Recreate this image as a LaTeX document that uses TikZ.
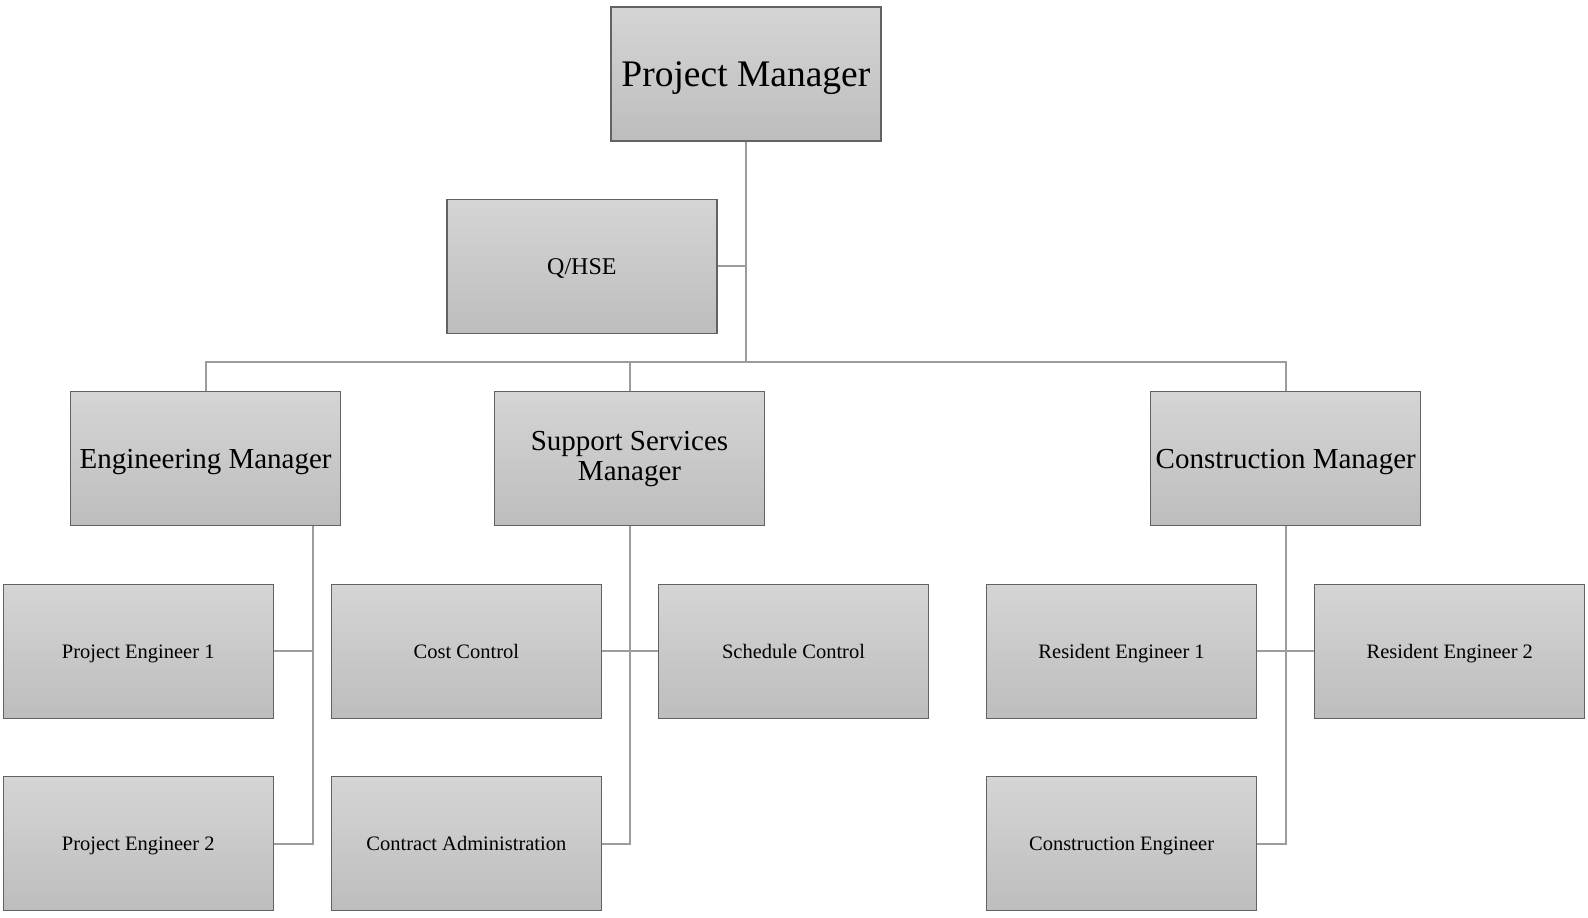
\documentclass[tikz,border=0pt]{standalone}
\usepackage{fontspec}
\setmainfont{Liberation Serif}
\definecolor{boxtop}{HTML}{D5D5D5}
\definecolor{boxbot}{HTML}{BDBDBD}
\definecolor{boxline}{HTML}{626262}
\definecolor{linkgray}{HTML}{9C9C9C}

\begin{document}
\begin{tikzpicture}[x=1pt, y=-1pt,
    unit/.style={draw=boxline, line width=1.2pt, top color=boxtop, bottom color=boxbot,
        minimum width=270pt, minimum height=134pt, inner sep=2pt, align=center},
    big/.style={text height=24.8pt, text depth=0pt, font=\fontsize{37.5}{40}\selectfont},
    mid/.style={font=\fontsize{29}{30.5}\selectfont},
    low/.style={text height=13.6pt, text depth=0pt, font=\fontsize{20.5}{23}\selectfont},
    link/.style={draw=linkgray, line width=2pt}]
    \useasboundingbox (0,0) rectangle (1588,918);
    % top level
    \node[unit, big] (pm) at (745.9,74) {Project Manager};
    \node[unit, text height=15.9pt, text depth=0pt, font=\fontsize{24}{26}\selectfont] (qhse) at (581.9,266.3) {Q/HSE};
    % managers
    \node[unit, mid, text height=19.2pt, text depth=0pt] (eng) at (205.6,458.8) {Engineering Manager};
    \node[unit, mid] (sup) at (629.5,458.8) {Support Services\\Manager};
    \node[unit, mid, text height=19.2pt, text depth=0pt] (con) at (1285.8,458.8) {Construction Manager};
    % staff
    \node[unit, low] (pe1) at (138.2,651.2) {Project Engineer 1};
    \node[unit, low] (pe2) at (138.2,843.6) {Project Engineer 2};
    \node[unit, low] (cost) at (466.4,651.2) {Cost Control};
    \node[unit, low] (sched) at (793.5,651.2) {Schedule Control};
    \node[unit, low] (cadm) at (466.4,843.6) {Contract Administration};
    \node[unit, low] (re1) at (1121.6,651.2) {Resident Engineer 1};
    \node[unit, low] (re2) at (1449.8,651.2) {Resident Engineer 2};
    \node[unit, low] (ceng) at (1121.6,843.6) {Construction Engineer};

    % connectors
    \coordinate (bus) at (745.9,361.6);
    \coordinate (engj) at (313,525.6);
    \draw[link] (pm.south) -- (bus);
    \draw[link] (qhse.east) -- (qhse.east -| pm.south);
    \draw[link] (eng.north) |- (bus);
    \draw[link] (sup.north) |- (bus);
    \draw[link] (con.north) |- (bus);
    \draw[link] (engj) |- (pe2.east);
    \draw[link] (pe1.east) -- (pe1.east -| engj);
    \draw[link] (sup.south) |- (cadm.east);
    \draw[link] (cost.east) -- (sched.west);
    \draw[link] (con.south) |- (ceng.east);
    \draw[link] (re1.east) -- (re2.west);
\end{tikzpicture}
\end{document}
